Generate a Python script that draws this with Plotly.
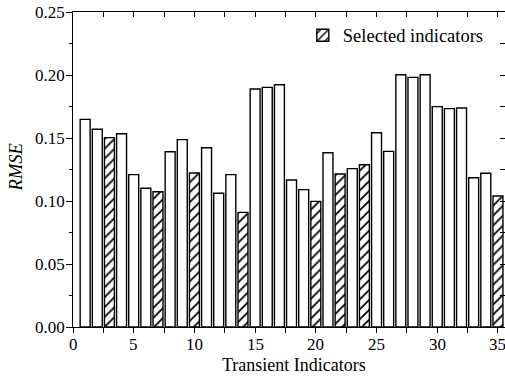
import plotly.graph_objects as go

indicators = list(range(1, 36))
rmse = [0.1648, 0.1569, 0.1503, 0.1534, 0.1209, 0.1101, 0.1074, 0.1391, 0.1487, 0.1222,
        0.1423, 0.1061, 0.1209, 0.0910, 0.1889, 0.1902, 0.1923, 0.1167, 0.1090, 0.0997,
        0.1383, 0.1214, 0.1257, 0.1288, 0.1542, 0.1394, 0.2002, 0.1981, 0.2002, 0.1749,
        0.1733, 0.1738, 0.1185, 0.1220, 0.1040]
selected = [3, 7, 10, 14, 20, 22, 24, 35]
x_ticks = [0, 2.5, 5, 7.5, 10, 12.5, 15, 17.5, 20, 22.5, 25, 27.5, 30, 32.5, 35]
x_label_vals = [0, 5, 10, 15, 20, 25, 30, 35]
x_label_text = ["0", "5", "10", "15", "20", "25", "30", "35"]
y_ticks = [0.0, 0.05, 0.10, 0.15, 0.20, 0.25]
y_ticktext = ["0.00", "0.05", "0.10", "0.15", "0.20", "0.25"]

x_plain = [i for i in indicators if i not in selected]
y_plain = [rmse[i - 1] for i in x_plain]
x_sel = [i for i in indicators if i in selected]
y_sel = [rmse[i - 1] for i in x_sel]

FONT = "Liberation Serif"
TF = dict(family=FONT, size=17, color="black")
TITLEF = dict(family=FONT, size=18, color="black")

fig = go.Figure()
fig.add_trace(go.Bar(x=x_plain, y=y_plain, width=0.82, showlegend=False,
                     marker=dict(color="white", line=dict(color="black", width=1.4))))
fig.add_trace(go.Bar(x=x_sel, y=y_sel, width=0.82, name="Selected indicators",
                     marker=dict(color="white", line=dict(color="black", width=1.4),
                                 pattern=dict(shape="/", fgcolor="black", bgcolor="white",
                                              size=7, solidity=0.25))))
fig.add_trace(go.Scatter(x=[], y=[], xaxis="x2", yaxis="y", showlegend=False))
fig.add_trace(go.Scatter(x=[], y=[], xaxis="x", yaxis="y2", showlegend=False))
fig.add_trace(go.Scatter(x=[], y=[], xaxis="x", yaxis="y3", showlegend=False))

annotations = []
for v, t in zip(x_label_vals, x_label_text):
    annotations.append(dict(x=v, xref="x", y=0, yref="paper", text=t, showarrow=False,
                            xanchor="center", yanchor="top", yshift=-9, height=15,
                            borderpad=0, font=TF))
for v, t in zip(y_ticks, y_ticktext):
    annotations.append(dict(x=0, xref="paper", y=v, yref="y", text=t, showarrow=False,
                            xanchor="right", yanchor="middle", xshift=-7, height=15,
                            borderpad=0, font=TF))
annotations.append(dict(x=0.5116, xref="paper", y=0, yref="paper", text="Transient Indicators",
                        showarrow=False, xanchor="center", yanchor="top", yshift=-29,
                        height=16, borderpad=0, font=TITLEF))
annotations.append(dict(x=-0.131, xref="paper", y=0.508, yref="paper", text="<i>RMSE</i>",
                        showarrow=False, xanchor="center", yanchor="middle", textangle=-90,
                        font=dict(family=FONT, size=18.5, color="black")))

xr = [0, 35.58]
yr = [0, 0.25]
fig.update_layout(
    template="none",
    width=505, height=378,
    margin=dict(l=73, r=0, t=12, b=51),
    plot_bgcolor="white", paper_bgcolor="white",
    barmode="overlay",
    font=dict(family=FONT, color="black", size=17),
    annotations=annotations,
    xaxis=dict(range=xr, tickmode="array", tickvals=x_ticks, showticklabels=False,
               ticks="outside", ticklen=5, tickwidth=1, tickcolor="black",
               showline=True, linecolor="black", linewidth=1.3, mirror=True,
               showgrid=False, zeroline=False),
    xaxis2=dict(range=xr, overlaying="x", side="top", anchor="y",
                tickmode="array", tickvals=x_ticks, ticks="inside", ticklen=5,
                tickcolor="black", showticklabels=False, showline=False,
                showgrid=False, zeroline=False),
    yaxis=dict(range=yr, tickmode="array", tickvals=y_ticks, showticklabels=False,
               ticks="outside", ticklen=6, tickwidth=1, tickcolor="black",
               showline=True, linecolor="black", linewidth=1.3,
               showgrid=False, zeroline=False),
    yaxis2=dict(range=yr, overlaying="y", side="right", anchor="x",
                tickmode="linear", tick0=0, dtick=0.025, ticks="inside", ticklen=5,
                tickcolor="black", showticklabels=False, showline=False,
                showgrid=False, zeroline=False),
    yaxis3=dict(range=yr, overlaying="y", side="left", anchor="x",
                tickmode="linear", tick0=0.025, dtick=0.05, ticks="outside", ticklen=3.5,
                tickcolor="black", showticklabels=False, showline=False,
                showgrid=False, zeroline=False),
    legend=dict(x=0.532, y=0.985, xanchor="left", yanchor="top",
                bgcolor="rgba(0,0,0,0)", font=dict(size=18.5, family=FONT, color="black")),
)
fig.write_html("out.html")
